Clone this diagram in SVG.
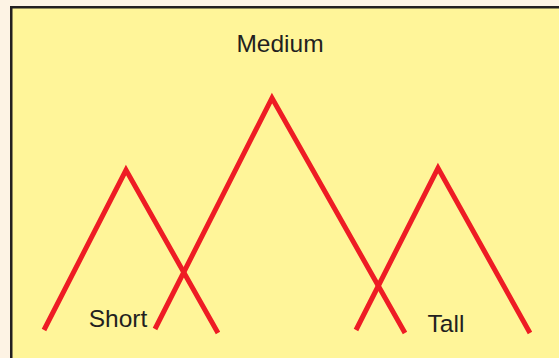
<svg xmlns="http://www.w3.org/2000/svg" width="559" height="358" viewBox="0 0 559 358">
<style>
.lbl{font-family:"Liberation Sans",Arial,sans-serif;font-size:24.5px;fill:#231F20}
.tri{fill:none;stroke:#EE1C24;stroke-width:5;stroke-linejoin:miter;stroke-linecap:butt}
</style>
<rect x="0" y="0" width="559" height="358" fill="#FDF3E4"/>
<rect x="11.25" y="7.25" width="560" height="360" fill="#FFF599" stroke="#231F20" stroke-width="2.5"/>
<g id="connectors">
<polyline id="short-curve" class="tri" points="44,330 126,170 218,333"/>
<polyline id="medium-curve" class="tri" points="155,329 272,98 405,333"/>
<polyline id="tall-curve" class="tri" points="356,330 438,168 530,333"/>
</g>
<g id="medium"><text class="lbl" x="280" y="52" text-anchor="middle">Medium</text></g>
<g id="short"><text class="lbl" x="118" y="327" text-anchor="middle">Short</text></g>
<g id="tall"><text class="lbl" x="446" y="332" text-anchor="middle">Tall</text></g>
</svg>
